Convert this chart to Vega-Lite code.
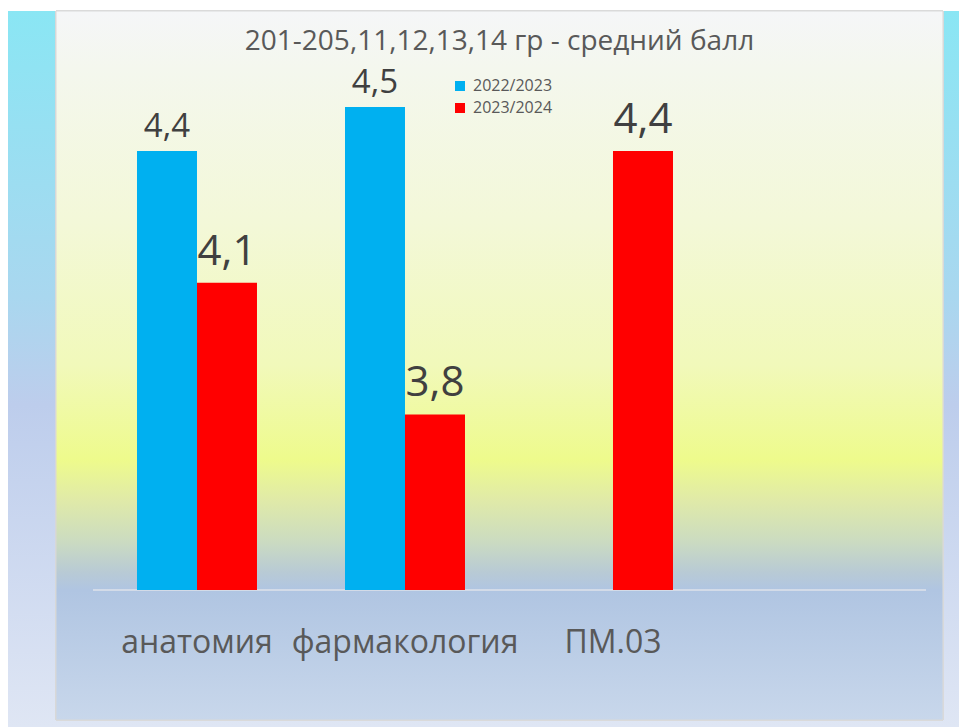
{
  "$schema": "https://vega.github.io/schema/vega-lite/v6.json",
  "width": 887,
  "height": 709,
  "autosize": {"type": "none"},
  "padding": {"left": 56, "top": 11, "right": 16, "bottom": 7},
  "background": "#ffffff",
  "config": {
    "view": {"stroke": null},
    "font": "Open Sans",
    "locale": {"number": {"decimal": ",", "thousands": " ", "grouping": [3], "currency": ["", ""]}}
  },
  "title": {
    "text": "201-205,11,12,13,14 гр - средний балл",
    "anchor": "middle",
    "frame": "group",
    "orient": "top",
    "offset": -67,
    "baseline": "alphabetic",
    "fontSize": 28,
    "fontWeight": "normal",
    "color": "#595959",
    "font": "Open Sans"
  },
  "data": {
    "values": [
      {"subject": "анатомия", "year": "2022/2023", "value": 4.4},
      {"subject": "анатомия", "year": "2023/2024", "value": 4.1},
      {"subject": "фармакология", "year": "2022/2023", "value": 4.5},
      {"subject": "фармакология", "year": "2023/2024", "value": 3.8},
      {"subject": "ПМ.03", "year": "2023/2024", "value": 4.4}
    ]
  },
  "layer": [
    {
      "mark": {
        "type": "rect",
        "fill": {
          "gradient": "linear", "x1": 0, "y1": 0, "x2": 0, "y2": 1,
          "stops": [
            {"offset": 0, "color": "#8AE6F4"},
            {"offset": 0.4, "color": "#A9D7EF"},
            {"offset": 0.55, "color": "#BDCDEC"},
            {"offset": 1, "color": "#DFE6F4"}
          ]
        }
      },
      "encoding": {
        "x": {"datum": "анатомия", "type": "nominal", "bandPosition": -1.075,
              "scale": {"domain": ["анатомия", "фармакология", "ПМ.03", " "], "paddingInner": 0.4231, "paddingOuter": 0.34375, "align": 0.5664, "round": false},
              "axis": {"title": null, "orient": "bottom", "offset": -130, "domain": false, "ticks": false, "tickSize": 0,
                       "labelPadding": 62, "labelBaseline": "alphabetic", "labelFontSize": 32, "labelColor": "#595959",
                       "labelFont": "Open Sans", "labelAngle": 0, "labelLimit": 0, "labelOverlap": false, "grid": false}},
        "x2": {"datum": "анатомия", "bandPosition": 6.85},
        "y": {"datum": 4.71891, "type": "quantitative", "scale": {"domain": [3.10387, 4.71891], "nice": false, "zero": false}, "axis": null},
        "y2": {"datum": 3.08793}
      }
    },
    {
      "mark": {
        "type": "rect",
        "stroke": "#D9D9D9",
        "strokeWidth": 1,
        "fill": {
          "gradient": "linear", "x1": 0, "y1": 0, "x2": 0, "y2": 1,
          "stops": [
            {"offset": 0, "color": "#F5F6F8"},
            {"offset": 0.08, "color": "#F4F7EE"},
            {"offset": 0.3, "color": "#F3F8D8"},
            {"offset": 0.5, "color": "#F1F9BA"},
            {"offset": 0.633, "color": "#EEFB8C"},
            {"offset": 0.69, "color": "#E0EAA8"},
            {"offset": 0.746, "color": "#CCDCC0"},
            {"offset": 0.792, "color": "#B8CAD5"},
            {"offset": 0.817, "color": "#B0C5E2"},
            {"offset": 1, "color": "#C8D7EB"}
          ]
        }
      },
      "encoding": {
        "x": {"datum": "анатомия", "type": "nominal", "bandPosition": -0.675},
        "x2": {"datum": "анатомия", "bandPosition": 6.7167},
        "y": {"datum": 4.71891, "type": "quantitative"},
        "y2": {"datum": 3.10387}
      }
    },
    {
      "mark": {"type": "rule", "stroke": "#D3DBE9", "strokeWidth": 1.5},
      "encoding": {
        "x": {"datum": "анатомия", "type": "nominal", "bandPosition": -0.3667},
        "x2": {"datum": "анатомия", "bandPosition": 6.575},
        "y": {"datum": 3.4, "type": "quantitative"}
      }
    },
    {
      "mark": {"type": "bar"},
      "encoding": {
        "x": {"field": "subject", "type": "nominal"},
        "xOffset": {"field": "year", "type": "nominal", "scale": {"domain": ["2022/2023", "2023/2024"], "paddingInner": 0, "paddingOuter": 0}},
        "y": {"field": "value", "type": "quantitative"},
        "y2": {"datum": 3.4},
        "color": {"field": "year", "type": "nominal",
                  "scale": {"domain": ["2022/2023", "2023/2024"], "range": ["#00B0F0", "#FF0000"]},
                  "legend": {"title": null, "orient": "none", "legendX": 396, "legendY": 67, "symbolType": "square",
                             "symbolSize": 100, "symbolStrokeWidth": 0, "labelFontSize": 16, "labelColor": "#595959",
                             "labelFont": "Open Sans", "rowPadding": 6, "labelOffset": 5, "padding": 0}}
      }
    },
    {
      "transform": [{"filter": "datum.year === '2022/2023'"}],
      "mark": {"type": "text", "baseline": "alphabetic", "dy": -14, "fontSize": 33, "color": "#404040"},
      "encoding": {
        "x": {"field": "subject", "type": "nominal"},
        "xOffset": {"field": "year", "type": "nominal"},
        "y": {"field": "value", "type": "quantitative"},
        "text": {"field": "value", "type": "quantitative", "format": ".1f"}
      }
    },
    {
      "transform": [{"filter": "datum.year === '2023/2024'"}],
      "mark": {"type": "text", "baseline": "alphabetic", "dy": -18, "fontSize": 42, "color": "#404040"},
      "encoding": {
        "x": {"field": "subject", "type": "nominal"},
        "xOffset": {"field": "year", "type": "nominal"},
        "y": {"field": "value", "type": "quantitative"},
        "text": {"field": "value", "type": "quantitative", "format": ".1f"}
      }
    }
  ]
}
